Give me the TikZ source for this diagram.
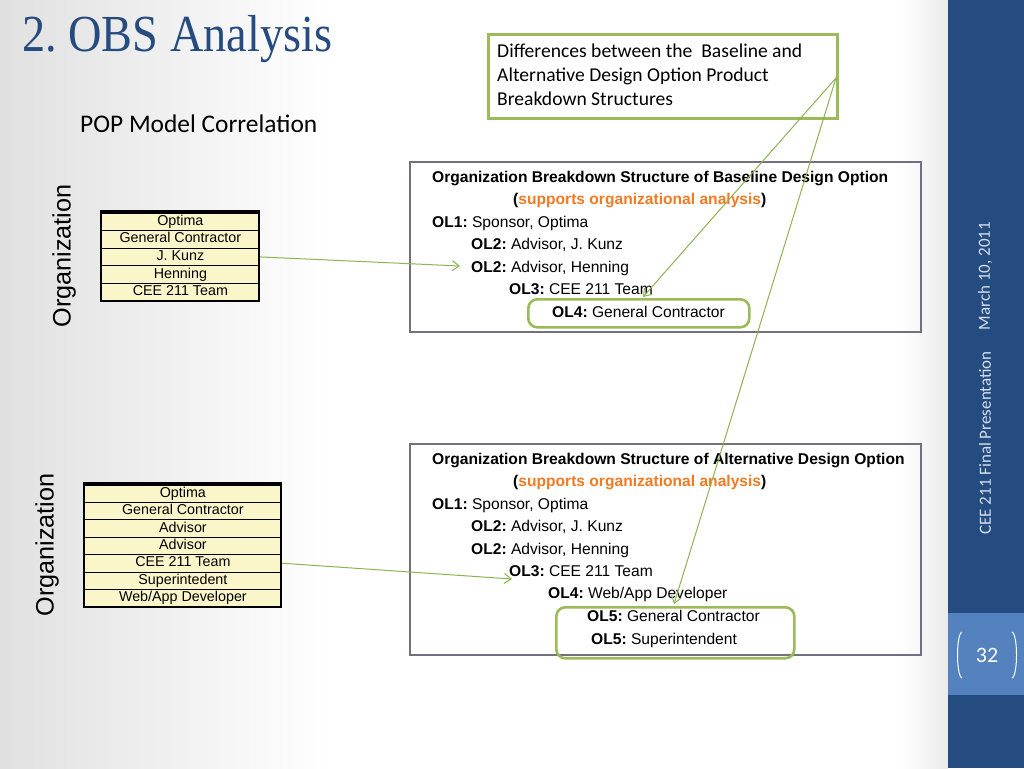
\documentclass[tikz,border=0pt]{standalone}
\usepackage{fontspec}
\setmainfont{Liberation Sans}
\newfontfamily\arialf{Liberation Sans}
\newfontfamily\calf{Carlito}
\newfontfamily\titlef{Liberation Serif}
\usetikzlibrary{arrows.meta,positioning}
\definecolor{titleblue}{HTML}{264B7F}
\definecolor{barblue}{HTML}{244C80}
\definecolor{barlight}{HTML}{5482BE}
\definecolor{boxgreen}{HTML}{9BBB59}
\definecolor{linegreen}{HTML}{8CB452}
\definecolor{rowyellow}{HTML}{FBF6CA}
\definecolor{obsgray}{HTML}{70707E}
\definecolor{orangetxt}{HTML}{F27A22}
\definecolor{bartext}{HTML}{D5DEEC}
\tikzset{
  obsline/.style={anchor=base west,inner sep=0pt,font=\arialf\fontsize{15.6}{17}\selectfont},
  rowbox/.style={draw=black,line width=0.8pt,fill=rowyellow,inner sep=0pt,
     font=\arialf\fontsize{14.3}{15}\selectfont,text height=10pt,text depth=2.8pt},
  outerbox/.style={draw=black,line width=2.6pt},
  greenbox/.style={draw=boxgreen,line width=2.6pt,rounded corners=9pt},
  conn/.style={draw=linegreen,line width=1pt,-{Straight Barb[length=7pt,width=10pt]}},
  orgtitle/.style={rotate=90,inner sep=0pt,font=\arialf\fontsize{25.2}{27}\selectfont},
  obsbox/.style={draw=obsgray,line width=1.1pt},
  bartxt/.style={rotate=90,inner sep=0pt,text=bartext,font=\calf\fontsize{17}{19}\selectfont}
}
\newcommand{\lbl}[1]{\textbf{#1}}
\frenchspacing
\begin{document}
\begin{tikzpicture}[x=1pt,y=-1pt]
\useasboundingbox (0,0) rectangle (1024,768);
% background
\fill[white] (0,0) rectangle (1024,768);
\shade[left color=black!12,right color=white] (0,0) rectangle (330,768);
\shade[left color=white,right color=black!8] (900,0) rectangle (948,768);
\fill[barblue] (948,0) rectangle (1024,768);
\fill[barlight] (948,613) rectangle (1024,695);
% right bar texts
\node[bartxt] (date) at (985,276) {March 10, 2011};
\node[bartxt] (pres) at (985,443) {CEE 211 Final Presentation};
\node[inner sep=0pt,text=white,font=\calf\fontsize{22}{24}\selectfont] (pnum) at (987,655) {32};
\draw[white,line width=1pt] (962,632) .. controls (956,634) and (956,676) .. (962,678);
\draw[white,line width=1pt] (1012,632) .. controls (1018,634) and (1018,676) .. (1012,678);
% title
\node[anchor=base west,inner sep=0pt,text=titleblue,font=\titlef\fontsize{52}{56}\selectfont,xscale=0.89] (title) at (22,52) {2. OBS Analysis};
\node[anchor=base west,inner sep=0pt,font=\calf\fontsize{25.4}{28}\selectfont] (pop) at (80,132) {POP Model Correlation};
% note box
\node[draw=boxgreen,line width=2.6pt,fill=white,anchor=north west,minimum width=349pt,minimum height=84pt,inner sep=0pt] (note) at (487,33) {};
\node[anchor=north west,align=left,inner sep=0pt,font=\calf\fontsize{19.6}{24}\selectfont] (notetext) at (497,44) {Differences between the\ \ Baseline and\\Alternative Design Option Product\\Breakdown Structures};
\coordinate (noteR) at (836,78);
% Organization labels
\node[orgtitle] (org1) at (64,256) {Organization};
\node[orgtitle] (org2) at (47,545) {Organization};
% top table
\foreach \i/\t in {1/Optima,2/General Contractor,3/J. Kunz,4/Henning,5/CEE 211 Team}{
  \node[rowbox,minimum width=158pt,minimum height=17.6pt,anchor=north west] (t\i) at (101,{212.5+17.6*(\i-1)}) {\t};
}
\draw[outerbox] (101,211.5) rectangle (259,301);
% bottom table
\foreach \i/\t in {1/Optima,2/General Contractor,3/Advisor,4/Advisor,5/CEE 211 Team,6/Superintedent,7/{Web/App Developer}}{
  \node[rowbox,minimum width=197pt,minimum height=17.4pt,anchor=north west] (b\i) at (84,{484.5+17.4*(\i-1)}) {\t};
}
\draw[outerbox] (84,483.5) rectangle (281,607);
% baseline OBS box
\draw[obsbox] (410,162) rectangle (921,332);
\node[greenbox,minimum width=221pt,minimum height=28pt,anchor=north west,inner sep=0pt] (hl1) at (527,298) {};
\node[obsline] (a0) at (432,182) {\lbl{Organization Breakdown Structure of Baseline Design Option}};
\node[obsline] (a1) at (513,204) {\lbl{(}\textcolor{orangetxt}{\lbl{supports organizational analysis}}\lbl{)}};
\node[obsline] (a2) at (432,227) {\lbl{OL1:} Sponsor, Optima};
\node[obsline] (a3) at (471,249) {\lbl{OL2:} Advisor, J. Kunz};
\node[obsline] (a4) at (471,272) {\lbl{OL2:} Advisor, Henning};
\node[obsline] (a5) at (509,294) {\lbl{OL3:} CEE 211 Team};
\node[obsline] (a6) at (552,317) {\lbl{OL4:} General Contractor};
% alternative OBS box
\draw[obsbox] (410,444) rectangle (921,655);
\node[greenbox,minimum width=238pt,minimum height=51pt,anchor=north west,inner sep=0pt] (hl2) at (555,606) {};
\node[obsline] (c0) at (432,464) {\lbl{Organization Breakdown Structure of Alternative Design Option}};
\node[obsline] (c1) at (513,486) {\lbl{(}\textcolor{orangetxt}{\lbl{supports organizational analysis}}\lbl{)}};
\node[obsline] (c2) at (432,509) {\lbl{OL1:} Sponsor, Optima};
\node[obsline] (c3) at (471,531) {\lbl{OL2:} Advisor, J. Kunz};
\node[obsline] (c4) at (471,554) {\lbl{OL2:} Advisor, Henning};
\node[obsline] (c5) at (509,576) {\lbl{OL3:} CEE 211 Team};
\node[obsline] (c6) at (548,598) {\lbl{OL4:} Web/App Developer};
\node[obsline] (c7) at (587,621) {\lbl{OL5:} General Contractor};
\node[obsline] (c8) at (591,644) {\lbl{OL5:} Superintendent};
% connectors
\coordinate (tipA) at (460,266);
\coordinate (tipB) at (512,579);
\coordinate (tipC) at (643,297);
\coordinate (tipD) at (674,604);
\draw[conn] (t3.east) -- (tipA);
\draw[conn] (b5.east) -- (tipB);
\draw[conn] (noteR) -- (tipC);
\draw[conn] (noteR) -- (tipD);
\end{tikzpicture}
\end{document}
